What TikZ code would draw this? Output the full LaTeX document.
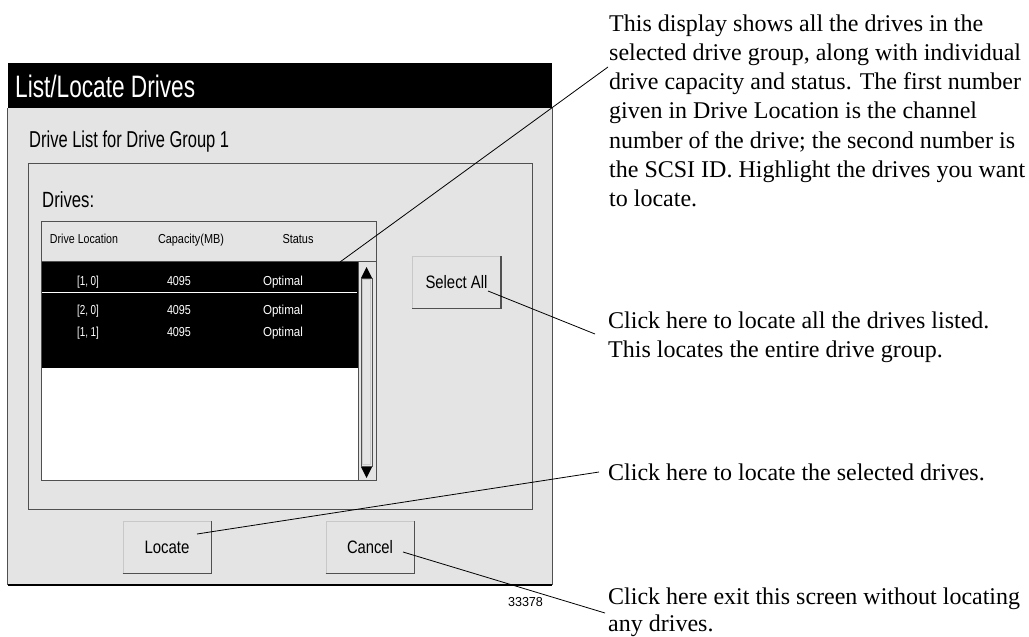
\documentclass[tikz,border=0pt]{standalone}
\usepackage{fontspec}
\usepackage{graphicx}
\setmainfont{Liberation Serif}
\newfontfamily\uifont{Liberation Sans}
\newcommand{\uitext}[3]{\resizebox{#1pt}{\height}{\fontsize{#2}{#2}\selectfont\uifont #3}}
\definecolor{dlg}{HTML}{E4E4E4}
\definecolor{edge}{HTML}{505050}
\definecolor{lightedge}{HTML}{C8C8C8}
\begin{document}
\begin{tikzpicture}[x=1pt,y=-1pt,
  lbl/.style={inner sep=0pt,anchor=base},
  lblw/.style={inner sep=0pt,anchor=base west},
  rowtxt/.style={lbl,text=white},
  button/.style={draw=lightedge,line width=1pt,fill=dlg,minimum width=88pt,minimum height=52pt,inner sep=0pt},
  leader/.style={draw=black,line width=0.8pt},
  note/.style={inner sep=0pt,anchor=base west,font=\fontsize{24}{29.3}\selectfont},
  notetight/.style={inner sep=0pt,anchor=base west,font=\fontsize{24}{27}\selectfont}
]
\useasboundingbox[fill=white] (0,0) rectangle (1029,637);
% dialog
\path[fill=dlg] (7.5,63) rectangle (552,585);
\path[fill=black] (7.5,63) rectangle (552,108);
\draw[edge,line width=1.5pt] (7.5,108) -- (7.5,585);
\draw[edge,line width=1pt] (552,108) -- (552,585);
\draw[black,line width=2pt] (7.5,585) -- (552,585);
\node[lblw,text=white] (title) at (15,97) {\uitext{180}{31}{List/Locate Drives}};
\node[lblw] (sub) at (29,147) {\uitext{200}{23}{Drive List for Drive Group 1}};
% drives group frame
\draw[edge,line width=1pt,fill=dlg] (28,163) rectangle (532,509);
\node[lblw] (drv) at (42,207) {\uitext{52}{22}{Drives:}};
% header
\draw[edge,line width=1pt,fill=dlg] (41,221) rectangle (376,261);
\node[lbl] (h1) at (84,243) {\uitext{68}{13}{Drive Location}};
\node[lbl] (h2) at (191,243) {\uitext{66}{13}{Capacity(MB)}};
\node[lbl] (h3) at (298,243) {\uitext{31}{13}{Status}};
% list
\path[fill=white] (41,261) rectangle (358,480);
\path[fill=black] (41,261) rectangle (358,368);
\draw[white,line width=1pt] (41,292) -- (357,292);
\node[rowtxt] (r1a) at (88,285) {\uitext{22}{13}{[1, 0]}};
\node[rowtxt] (r1b) at (179,285) {\uitext{24}{13}{4095}};
\node[rowtxt] (r1c) at (283,285) {\uitext{40}{13}{Optimal}};
\node[rowtxt] (r2a) at (88,314) {\uitext{22}{13}{[2, 0]}};
\node[rowtxt] (r2b) at (179,314) {\uitext{24}{13}{4095}};
\node[rowtxt] (r2c) at (283,314) {\uitext{40}{13}{Optimal}};
\node[rowtxt] (r3a) at (88,336) {\uitext{22}{13}{[1, 1]}};
\node[rowtxt] (r3b) at (179,336) {\uitext{24}{13}{4095}};
\node[rowtxt] (r3c) at (283,336) {\uitext{40}{13}{Optimal}};
% scrollbar
\path[fill=dlg] (358,261) rectangle (376,480);
\draw[edge,line width=1pt] (41,261) rectangle (376,480);
\draw[edge,line width=1pt] (358,261) -- (358,480);
\draw[edge,line width=0.8pt,fill=dlg] (361,278) rectangle (372,466);
\draw[lightedge,line width=0.6pt] (362.5,279.5) rectangle (370.5,464.5);
\fill[black] (366.5,267) -- (372,278) -- (361,278) -- cycle;
\fill[black] (366.5,478) -- (372,467) -- (361,467) -- cycle;
% buttons
\node[button] (selall) at (456.5,282) {\uitext{62}{18}{Select All}};
\node[button] (locate) at (167,547) {\uitext{45}{18}{Locate}};
\node[button] (cancel) at (370,547) {\uitext{46}{18}{Cancel}};
\foreach \b in {selall,locate,cancel}{
  \draw[edge,line width=1.5pt] (\b.south west) -- (\b.south east) -- (\b.north east);
}
\node[lbl] (fig) at (525.5,606) {\uitext{35}{13}{33378}};
% notes
\node[note] (n1) at (609,31) {\begin{tabular}[t]{@{}l@{}}This display shows all the drives in the\\
selected drive group, along with individual\\
drive capacity and status. The first number\\
given in Drive Location is the channel\\
number of the drive; the second number is\\
the SCSI ID. Highlight the drives you want\\
to locate.\end{tabular}};
\node[note] (n2) at (608,328) {\begin{tabular}[t]{@{}l@{}}Click here to locate all the drives listed.\\
This locates the entire drive group.\end{tabular}};
\node[note] (n3) at (608,480) {Click here to locate the selected drives.};
\node[notetight] (n4) at (608,604) {\begin{tabular}[t]{@{}l@{}}Click here exit this screen without locating\\
any drives.\end{tabular}};
% leader lines
\coordinate (listpt) at (340,262);
\coordinate (n1pt) at (608,67);
\coordinate (selpt) at (488,291);
\coordinate (n2pt) at (595,334);
\coordinate (locpt) at (197,534);
\coordinate (n3pt) at (599,472);
\coordinate (canpt) at (403,552);
\coordinate (n4pt) at (605,613);
\draw[leader] (listpt) -- (n1pt);
\draw[leader] (selpt) -- (n2pt);
\draw[leader] (locpt) -- (n3pt);
\draw[leader] (canpt) -- (n4pt);
\end{tikzpicture}
\end{document}
